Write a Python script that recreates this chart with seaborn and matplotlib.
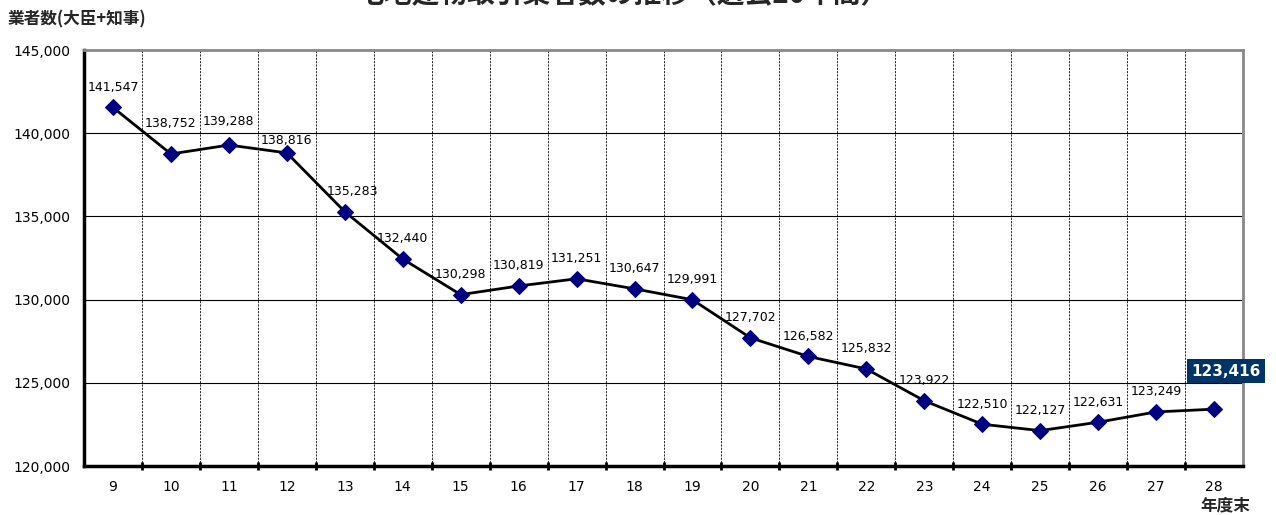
import matplotlib
matplotlib.use("Agg")
import matplotlib.pyplot as plt
import seaborn as sns
import pandas as pd
from matplotlib.ticker import FuncFormatter

years = ["9", "10", "11", "12", "13", "14", "15", "16", "17", "18",
         "19", "20", "21", "22", "23", "24", "25", "26", "27", "28"]
counts = [141547, 138752, 139288, 138816, 135283, 132440, 130298, 130819, 131251, 130647,
          129991, 127702, 126582, 125832, 123922, 122510, 122127, 122631, 123249, 123416]
y_ticks = [120000, 125000, 130000, 135000, 140000, 145000]

title = "宅地建物取引業者数の推移（過去20年間）"
ylabel = "業者数(大臣+知事)"
xlabel = "年度末"

sns.set_theme(style="white")
plt.rcParams['font.family'] = ['DejaVu Sans', 'Noto Sans CJK JP']
cjk = ['Noto Sans CJK JP', 'DejaVu Sans']

df = pd.DataFrame({"year": years, "count": counts})
df["pos"] = range(len(years))

fig = plt.figure(figsize=(12.76, 5.15), dpi=100)
ax = fig.add_axes([84/1276, 1-466/515, (1243-84)/1276, (466-50)/515])

sns.lineplot(data=df, x="pos", y="count", ax=ax, color="black", linewidth=2,
             marker="D", markersize=8, markerfacecolor="#000080",
             markeredgecolor="#000080", zorder=3)

ax.set_xlim(-0.5, len(years) - 0.5)
ax.set_ylim(120000, 145000)
ax.set_yticks(y_ticks)
ax.yaxis.set_major_formatter(FuncFormatter(lambda v, p: f"{int(v):,}"))
ax.set_xticks(range(len(years)))
ax.set_xticklabels(years)
ax.tick_params(axis="both", labelsize=10, length=0, pad=10, labelcolor="black")
ax.set_xlabel("")
ax.set_ylabel("")

for v in y_ticks[1:-1]:
    ax.axhline(v, color="black", linewidth=0.8, zorder=1)
for i in range(len(years) - 1):
    ax.axvline(i + 0.5, color="black", linewidth=0.6, linestyle=(0, (2.5, 1.5)), zorder=1)
    ax.plot([i + 0.5], [120000], marker="|", color="black", markersize=6,
            markeredgewidth=2, clip_on=False, zorder=4)

for s in ["left", "bottom"]:
    ax.spines[s].set_color("black")
    ax.spines[s].set_linewidth(2.5)
for s in ["top", "right"]:
    ax.spines[s].set_color("#888888")
    ax.spines[s].set_linewidth(2)

# label placement tweaks (pixels: dx, dy of label centre above the point)
label_shift = {1: (0, 30), 2: (0, 24), 3: (0, 12), 4: (8, 20)}
for i, v in enumerate(counts[:-1]):
    dx, dy = label_shift.get(i, (0, 20))
    ax.annotate(f"{v:,}", (i, v), xytext=(dx * 0.72, dy * 0.72), textcoords="offset points",
                ha="center", va="center", fontsize=9, color="black", zorder=5)

ax.annotate(f"{counts[-1]:,}", (len(years) - 1, counts[-1]), xytext=(1226, 515-371),
            textcoords="figure pixels", ha="center", va="center", fontsize=11,
            fontweight="bold", color="white", annotation_clip=False,
            bbox=dict(boxstyle="square,pad=0.3", facecolor="#003366", edgecolor="none"))

fig.text(8/1276, 1-19/515, ylabel, fontsize=12, fontweight="bold", ha="left",
         va="center", family=cjk)
fig.text(1225/1276, 1-505/515, xlabel, fontsize=12, fontweight="bold", ha="center",
         va="center", family=cjk)
fig.text(623/1276, 1-2/515, title, fontsize=20, fontweight="bold", ha="center",
         va="baseline", family=cjk)

fig.savefig("out.png", dpi=100)
